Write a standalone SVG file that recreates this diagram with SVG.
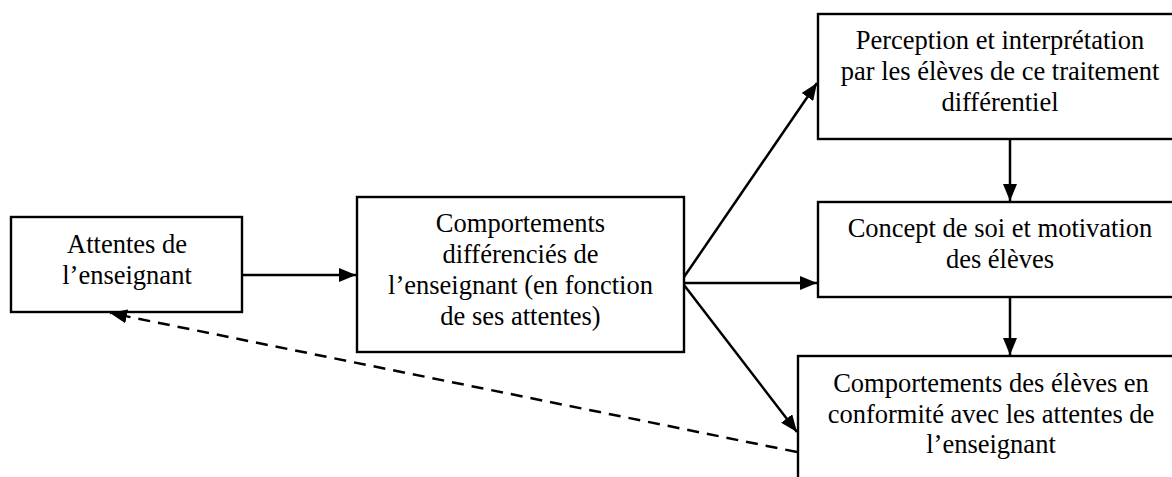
<svg xmlns="http://www.w3.org/2000/svg" width="1172" height="477" viewBox="0 0 1172 477">
<style>
.box{fill:#fff;stroke:#000;stroke-width:2.4}
.t{font-family:"Liberation Serif","Times New Roman",serif;font-size:26.5px;fill:#000;text-anchor:middle}
.c{stroke:#000;stroke-width:2.5;fill:none}
.d{stroke-dasharray:12,8}
</style>
<defs>
<marker id="ah" markerUnits="userSpaceOnUse" markerWidth="17" markerHeight="14" refX="17" refY="7" orient="auto">
<path d="M0,0 L17,7 L0,14 z" fill="#000"/>
</marker>
</defs>
<rect width="1172" height="477" fill="#fff"/>
<g id="n1">
<rect class="box" x="11" y="217" width="231" height="95"/>
<text class="t" x="127" y="253">Attentes de</text>
<text class="t" x="127" y="284">l’enseignant</text>
</g>
<g id="n2">
<rect class="box" x="357" y="197" width="327" height="155"/>
<text class="t" x="520.5" y="232">Comportements</text>
<text class="t" x="520.5" y="263">différenciés de</text>
<text class="t" x="520.5" y="294">l’enseignant (en fonction</text>
<text class="t" x="520.5" y="325">de ses attentes)</text>
</g>
<g id="n3">
<rect class="box" x="818" y="14" width="365" height="125"/>
<text class="t" x="1000" y="49">Perception et interprétation</text>
<text class="t" x="1000" y="80">par les élèves de ce traitement</text>
<text class="t" x="1000" y="111">différentiel</text>
</g>
<g id="n4">
<rect class="box" x="818" y="202" width="365" height="95"/>
<text class="t" x="1000" y="237">Concept de soi et motivation</text>
<text class="t" x="1000" y="268">des élèves</text>
</g>
<g id="n5">
<rect class="box" x="798" y="356" width="386" height="140"/>
<text class="t" x="991" y="392">Comportements des élèves en</text>
<text class="t" x="991" y="423">conformité avec les attentes de</text>
<text class="t" x="991" y="453">l’enseignant</text>
</g>
<g id="connectors">
<line class="c" x1="243" y1="275" x2="356" y2="275" marker-end="url(#ah)"/>
<line class="c" x1="684" y1="277" x2="817" y2="83" marker-end="url(#ah)"/>
<line class="c" x1="684" y1="283" x2="817" y2="283" marker-end="url(#ah)"/>
<line class="c" x1="684" y1="285" x2="797" y2="432" marker-end="url(#ah)"/>
<line class="c" x1="1010" y1="140" x2="1010" y2="201" marker-end="url(#ah)"/>
<line class="c" x1="1010" y1="298" x2="1010" y2="355" marker-end="url(#ah)"/>
<line class="c d" x1="797" y1="452" x2="110" y2="313" marker-end="url(#ah)"/>
</g>
</svg>
